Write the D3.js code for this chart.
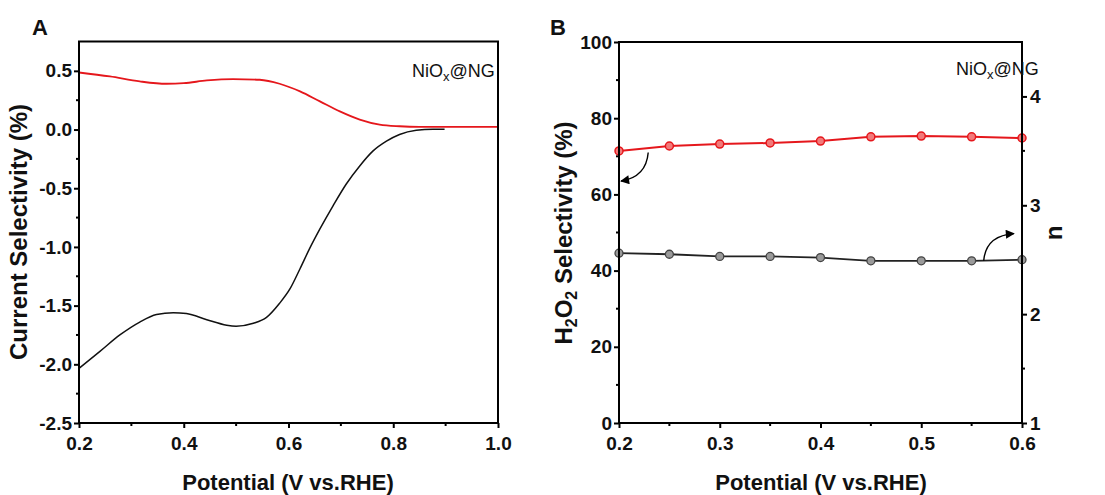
<!DOCTYPE html>
<html>
<head>
<meta charset="utf-8">
<script src="https://cdn.jsdelivr.net/npm/d3@7"></script>
<style>
  body { margin: 0; background: #fff; }
</style>
</head>
<body>
<svg id="chart" width="1105" height="495"></svg>
<script>
// panel A: current selectivity vs potential
var potA_red = [0.2, 0.259, 0.316, 0.367, 0.40, 0.444, 0.494, 0.545, 0.583, 0.622, 0.66, 0.698, 0.736, 0.774, 0.812, 0.85, 1.0];
var selA_red = [0.486, 0.452, 0.41, 0.39, 0.395, 0.418, 0.43, 0.424, 0.39, 0.325, 0.24, 0.155, 0.085, 0.042, 0.028, 0.023, 0.023];
var potA_black = [0.2, 0.24, 0.278, 0.316, 0.348, 0.38, 0.405, 0.444, 0.482, 0.5, 0.533, 0.558, 0.583, 0.603, 0.622, 0.64, 0.66, 0.685, 0.71, 0.736, 0.761, 0.787, 0.812, 0.844, 0.876, 0.898];
var selA_black = [-2.034, -1.89, -1.75, -1.64, -1.576, -1.56, -1.568, -1.62, -1.667, -1.675, -1.65, -1.60, -1.48, -1.356, -1.186, -1.017, -0.847, -0.65, -0.466, -0.31, -0.184, -0.099, -0.042, -0.006, 0.003, 0.003];

// panel B: H2O2 selectivity (left axis) and n (right axis)
var potB = [0.2, 0.25, 0.3, 0.35, 0.4, 0.45, 0.5, 0.55, 0.6];
var h2o2 = [71.4, 72.7, 73.2, 73.5, 74.0, 75.1, 75.3, 75.1, 74.8];
var nVal = [2.56, 2.55, 2.53, 2.53, 2.52, 2.49, 2.49, 2.49, 2.50];

var ticksA_x = [0.2, 0.4, 0.6, 0.8, 1.0];
var ticksA_y = [0.5, 0.0, -0.5, -1.0, -1.5, -2.0, -2.5];
var ticksB_x = [0.2, 0.3, 0.4, 0.5, 0.6];
var ticksB_y = [0, 20, 40, 60, 80, 100];
var ticksB_n = [1, 2, 3, 4];

var svg = d3.select("#chart");
var RED = "#e5171c";
var FONT = "'Liberation Sans', Arial, sans-serif";

function zip(xs, ys) { return xs.map(function(x, i) { return {x: x, y: ys[i]}; }); }
var f1 = function(d) { return d3.format(".1f")(d).replace("\u2212", "-"); };

function frame(g, x, y) {
    g.append("rect")
        .attr("x", x.range()[0]).attr("y", y.range()[1])
        .attr("width", x.range()[1] - x.range()[0])
        .attr("height", y.range()[0] - y.range()[1])
        .attr("fill", "none").attr("stroke", "#000").attr("stroke-width", 2);
}

function styleAxis(a) {
    a.select(".domain").remove();
    a.selectAll(".tick line").attr("stroke", "#000").attr("stroke-width", 2);
    a.selectAll(".tick text").attr("fill", "#111")
        .style("font-family", FONT).style("font-weight", "bold").style("font-size", "19px");
}

function minor(g, scale, vals, orient, pos) {
    vals.forEach(function(v) {
        var p = scale(v);
        var l = g.append("line").attr("stroke", "#000").attr("stroke-width", 2);
        if (orient == "bottom") l.attr("x1", p).attr("x2", p).attr("y1", pos).attr("y2", pos + 3);
        if (orient == "left") l.attr("y1", p).attr("y2", p).attr("x1", pos).attr("x2", pos - 3);
        if (orient == "right") l.attr("y1", p).attr("y2", p).attr("x1", pos).attr("x2", pos + 3);
    });
}

function title(g, size) {
    return g.append("text").attr("fill", "#111").style("font-family", FONT)
        .style("font-weight", "bold").style("font-size", size + "px");
}

function sample(g, x, y) {
    var t = g.append("text").attr("x", x).attr("y", y).attr("fill", "#111")
        .style("font-family", FONT).style("font-size", "18px");
    t.append("tspan").text("NiO");
    t.append("tspan").attr("dy", 4).style("font-size", "13px").text("x");
    t.append("tspan").attr("dy", -4).text("@NG");
}

// ---------- Panel A ----------
var xA = d3.scaleLinear().domain([0.2, 1.0]).range([79, 498]);
var yA = d3.scaleLinear().domain([-2.5, 0.75]).range([423, 41.5]);
var gA = svg.append("g");

gA.append("g").attr("transform", "translate(0,423)")
    .call(d3.axisBottom(xA).tickValues(ticksA_x).tickSize(5).tickPadding(9).tickFormat(f1))
    .call(styleAxis);
gA.append("g").attr("transform", "translate(79,0)")
    .call(d3.axisLeft(yA).tickValues(ticksA_y).tickSize(5).tickPadding(2).tickFormat(f1))
    .call(styleAxis);
minor(gA, xA, [0.3, 0.5, 0.7, 0.9], "bottom", 423);
minor(gA, yA, [0.25, -0.25, -0.75, -1.25, -1.75, -2.25], "left", 79);

var lineA = d3.line().x(function(d) { return xA(d.x); }).y(function(d) { return yA(d.y); }).curve(d3.curveMonotoneX);
gA.append("path").datum(zip(potA_black, selA_black))
    .attr("fill", "none").attr("stroke", "#111").attr("stroke-width", 1.5).attr("d", lineA);
gA.append("path").datum(zip(potA_red, selA_red))
    .attr("fill", "none").attr("stroke", RED).attr("stroke-width", 1.8).attr("d", lineA);
frame(gA, xA, yA);

title(gA, 22).attr("x", 32).attr("y", 35).text("A");
sample(gA, 412, 77);
title(gA, 22).attr("text-anchor", "middle").attr("x", 288).attr("y", 490).text("Potential (V vs.RHE)");
title(gA, 24).attr("text-anchor", "middle")
    .attr("transform", "translate(27,232) rotate(-90)").text("Current Selectivity (%)");

// ---------- Panel B ----------
var xB = d3.scaleLinear().domain([0.2, 0.6]).range([619, 1022]);
var yB = d3.scaleLinear().domain([0, 100]).range([423, 42]);
var nB = d3.scaleLinear().domain([1, 4.5]).range([423, 42]);
var gB = svg.append("g");

gB.append("g").attr("transform", "translate(0,423)")
    .call(d3.axisBottom(xB).tickValues(ticksB_x).tickSize(5).tickPadding(9).tickFormat(f1))
    .call(styleAxis);
gB.append("g").attr("transform", "translate(619,0)")
    .call(d3.axisLeft(yB).tickValues(ticksB_y).tickSize(5).tickPadding(2).tickFormat(d3.format("d")))
    .call(styleAxis);
gB.append("g").attr("transform", "translate(1022,0)")
    .call(d3.axisRight(nB).tickValues(ticksB_n).tickSize(5).tickPadding(3).tickFormat(d3.format("d")))
    .call(styleAxis);
minor(gB, xB, [0.25, 0.35, 0.45, 0.55], "bottom", 423);
minor(gB, yB, [10, 30, 50, 70, 90], "left", 619);
minor(gB, nB, [1.5, 2.5, 3.5], "right", 1022);

var lineSel = d3.line().x(function(d) { return xB(d.x); }).y(function(d) { return yB(d.y); });
var lineN = d3.line().x(function(d) { return xB(d.x); }).y(function(d) { return nB(d.y); });

gB.append("path").datum(zip(potB, nVal))
    .attr("fill", "none").attr("stroke", "#222").attr("stroke-width", 1.8).attr("d", lineN);
gB.selectAll(".mn").data(zip(potB, nVal)).enter().append("circle")
    .attr("cx", function(d) { return xB(d.x); }).attr("cy", function(d) { return nB(d.y); })
    .attr("r", 4).attr("fill", "#9a9a9a").attr("stroke", "#444").attr("stroke-width", 1.3);

gB.append("path").datum(zip(potB, h2o2))
    .attr("fill", "none").attr("stroke", RED).attr("stroke-width", 2).attr("d", lineSel);
gB.selectAll(".ms").data(zip(potB, h2o2)).enter().append("circle")
    .attr("cx", function(d) { return xB(d.x); }).attr("cy", function(d) { return yB(d.y); })
    .attr("r", 4).attr("fill", "#f27a7a").attr("stroke", RED).attr("stroke-width", 1.5);

frame(gB, xB, yB);

// arrows pointing each curve to its axis
var defs = svg.append("defs");
defs.append("marker").attr("id", "arr").attr("viewBox", "0 0 10 10")
    .attr("refX", 9).attr("refY", 5).attr("markerWidth", 11).attr("markerHeight", 9)
    .attr("markerUnits", "userSpaceOnUse").attr("orient", "auto")
    .append("path").attr("d", "M0,0 L10,5 L0,10 Z").attr("fill", "#000");

var ax1 = xB(0.229), ay1 = yB(71.0), ax2 = xB(0.202), ay2 = yB(63.5);
gB.append("path")
    .attr("d", "M" + ax1 + "," + ay1 + " Q" + (ax1 - 2) + "," + (ay2 - 4) + " " + ax2 + "," + ay2)
    .attr("fill", "none").attr("stroke", "#000").attr("stroke-width", 1.4).attr("marker-end", "url(#arr)");
var bx1 = xB(0.562), by1 = nB(2.49), bx2 = xB(0.592), by2 = nB(2.74);
gB.append("path")
    .attr("d", "M" + bx1 + "," + by1 + " Q" + (bx1 + 2) + "," + (by2 + 2) + " " + bx2 + "," + by2)
    .attr("fill", "none").attr("stroke", "#000").attr("stroke-width", 1.4).attr("marker-end", "url(#arr)");

title(gB, 22).attr("x", 550).attr("y", 35).text("B");
sample(gB, 956, 75);
title(gB, 22).attr("text-anchor", "middle").attr("x", 821).attr("y", 490).text("Potential (V vs.RHE)");
var yt = title(gB, 24).attr("text-anchor", "middle")
    .attr("transform", "translate(572,233) rotate(-90)");
yt.append("tspan").text("H");
yt.append("tspan").attr("dy", 5).style("font-size", "16px").text("2");
yt.append("tspan").attr("dy", -5).text("O");
yt.append("tspan").attr("dy", 5).style("font-size", "16px").text("2");
yt.append("tspan").attr("dy", -5).text(" Selectivity (%)");
title(gB, 24).attr("text-anchor", "middle")
    .attr("transform", "translate(1062,233) rotate(-90)").text("n");
</script>
</body>
</html>
